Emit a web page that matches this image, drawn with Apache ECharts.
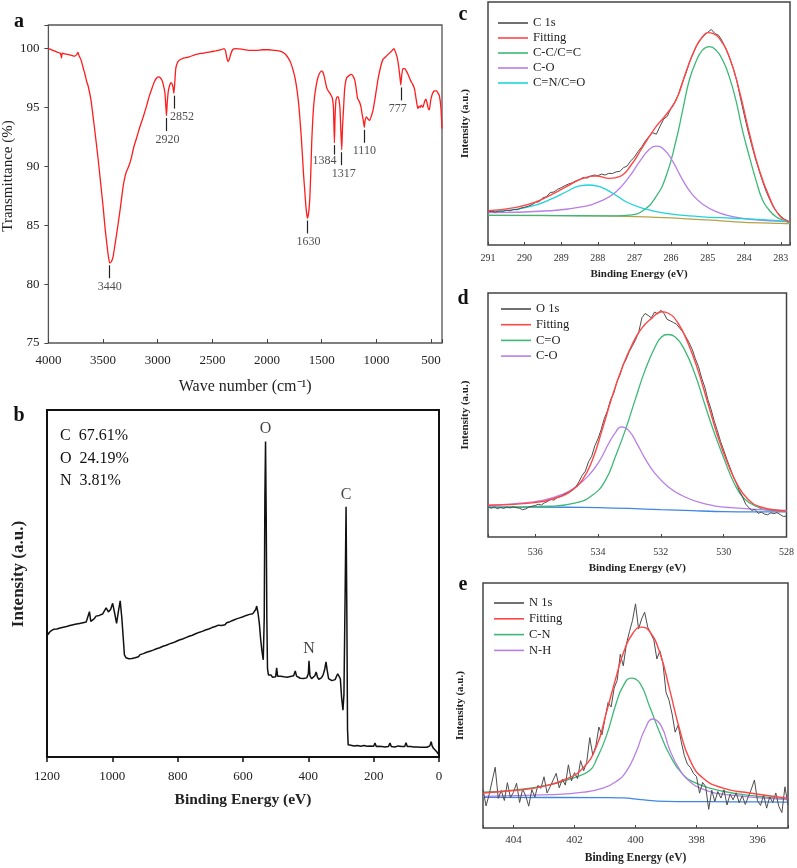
<!DOCTYPE html>
<html><head><meta charset="utf-8">
<script src="https://cdn.jsdelivr.net/npm/echarts@6/dist/echarts.min.js"></script>
<style>html,body{margin:0;padding:0;background:#fff}#c{width:797px;height:868px}</style>
</head><body><div id="c"></div>
<script>
// ---------- DATA ----------
// (a) FTIR: [wavenumber cm-1, transmittance %]
const ftir = [[4000,100.0],[3960,99.85],[3920,99.7],[3890,99.6],[3880,99.2],[3875,99.6],[3850,99.55],[3820,99.5],[3800,99.45],[3780,99.4],[3760,99.35],[3740,99.5],[3730,99.7],[3720,99.4],[3700,99.0],[3680,98.3],[3665,97.8],[3650,97.2],[3636,96.8],[3610,95.6],[3591,94.2],[3570,92.6],[3545,90.6],[3520,88.4],[3500,86.6],[3480,84.6],[3455,82.6],[3440,81.8],[3425,81.9],[3409,82.3],[3390,83.4],[3364,85.0],[3340,86.6],[3318,88.2],[3300,89.1],[3288,89.5],[3265,90.0],[3242,90.7],[3220,91.6],[3197,92.3],[3165,93.3],[3136,94.1],[3100,95.2],[3076,96.0],[3050,96.7],[3030,97.2],[3010,97.5],[2991,97.6],[2975,97.5],[2961,97.3],[2948,96.9],[2935,96.3],[2925,95.0],[2920,94.3],[2913,95.4],[2903,96.4],[2890,96.9],[2879,97.1],[2868,97.0],[2860,96.7],[2852,96.2],[2845,97.0],[2835,98.3],[2820,98.8],[2803,99.0],[2760,99.2],[2712,99.3],[2650,99.5],[2591,99.6],[2530,99.7],[2470,99.8],[2420,99.9],[2394,100.0],[2380,99.8],[2368,99.2],[2355,98.9],[2345,99.1],[2333,99.5],[2315,99.9],[2288,100.0],[2230,99.95],[2167,99.85],[2100,99.85],[2040,99.9],[1985,99.9],[1940,99.85],[1894,99.8],[1860,99.7],[1830,99.5],[1800,99.1],[1780,98.7],[1760,98.1],[1742,97.4],[1725,96.4],[1712,95.4],[1700,94.1],[1688,92.6],[1677,91.0],[1667,89.4],[1655,87.9],[1645,86.6],[1635,85.8],[1630,85.6],[1618,86.2],[1609,87.3],[1600,89.5],[1591,92.2],[1580,94.3],[1567,95.8],[1550,96.9],[1536,97.5],[1520,97.9],[1500,98.1],[1490,98.0],[1479,97.7],[1465,97.1],[1455,96.7],[1440,96.4],[1424,96.2],[1413,96.0],[1403,95.8],[1393,95.0],[1384,92.0],[1378,94.2],[1370,95.6],[1360,95.9],[1348,95.9],[1340,95.5],[1333,94.9],[1326,93.2],[1317,91.4],[1310,93.3],[1300,95.0],[1290,96.6],[1273,97.5],[1250,97.7],[1227,97.8],[1210,97.6],[1197,97.3],[1185,96.6],[1173,95.8],[1162,95.6],[1152,95.4],[1140,95.0],[1130,94.4],[1120,93.9],[1110,93.3],[1105,93.8],[1091,94.2],[1075,94.0],[1061,93.9],[1045,94.3],[1030,94.8],[1010,95.9],[985,97.4],[960,98.5],[939,99.1],[915,99.3],[894,99.5],[870,99.7],[850,99.9],[839,100.0],[825,99.7],[809,99.2],[795,98.4],[785,97.6],[777,96.9],[770,97.6],[758,98.3],[740,98.3],[727,98.1],[710,97.8],[688,97.3],[670,97.0],[652,96.6],[638,95.8],[621,94.9],[610,95.1],[600,95.0],[590,95.2],[585,95.2],[575,95.0],[565,95.3],[555,95.6],[546,95.7],[535,95.3],[525,94.9],[515,94.8],[505,95.5],[490,96.1],[470,96.4],[450,96.4],[435,96.2],[424,96.0],[410,95.0],[400,93.2]];
const ftirPeaks = [3440, 2920, 2852, 1630, 1384, 1317, 1110, 777];
const ftirTicksY = [75, 80, 85, 90, 95, 100];

// (b) XPS survey: [binding energy eV, intensity a.u.]
const survey = [[1200,36.5],[1197,35.3],[1195,35.6],[1190,36.2],[1185,35.9],[1180,36.8],[1175,36.3],[1170,36.9],[1165,36.6],[1160,37.2],[1155,36.9],[1150,37.4],[1145,37.1],[1140,37.6],[1135,37.3],[1130,37.9],[1125,37.6],[1120,38.1],[1115,37.8],[1110,38.3],[1105,38.0],[1100,38.5],[1095,38.2],[1090,38.7],[1085,38.4],[1080,38.9],[1075,39.0],[1070,41.9],[1066,39.1],[1060,39.4],[1055,39.9],[1050,40.6],[1045,40.2],[1040,40.8],[1035,40.5],[1030,41.2],[1025,41.6],[1019,43.0],[1012,41.8],[1005,42.6],[999,44.3],[993,41.5],[987,38.5],[982,41.6],[976,45.0],[971,40.2],[966,33.5],[963,29.4],[958,28.6],[950,28.3],[945,28.0],[940,28.4],[935,28.9],[930,28.6],[925,29.1],[920,28.9],[915,29.5],[910,29.3],[905,29.8],[900,29.6],[895,30.2],[890,30.0],[885,30.5],[880,30.3],[875,30.8],[870,30.7],[865,31.2],[860,30.9],[855,31.5],[850,31.4],[845,31.9],[840,31.7],[835,32.2],[830,32.0],[825,32.6],[820,32.4],[815,32.9],[810,32.8],[805,33.3],[800,33.1],[795,33.7],[790,33.5],[785,34.0],[780,33.9],[775,34.4],[770,34.2],[765,34.8],[760,34.6],[755,35.1],[750,35.0],[745,35.5],[740,35.3],[735,35.9],[730,35.7],[725,36.2],[720,36.0],[715,36.6],[710,36.4],[705,36.9],[700,36.8],[695,37.3],[690,37.1],[685,37.6],[680,37.4],[675,38.0],[670,38.3],[665,37.9],[660,38.3],[655,38.1],[650,38.7],[645,38.5],[640,39.0],[635,38.8],[630,39.4],[625,39.2],[620,39.8],[615,39.5],[610,40.1],[605,39.9],[600,40.4],[595,40.2],[590,40.8],[585,40.6],[580,41.1],[575,40.9],[570,41.3],[565,41.6],[561,42.5],[558,43.5],[554,41.5],[550,38.5],[546,34.0],[542,30.5],[538,28.0],[535,40.0],[533,75.0],[531,90.9],[529,70.0],[527,40.0],[525,25.5],[522,23.6],[518,23.2],[514,23.6],[510,23.0],[505,23.4],[500,23.1],[497,25.7],[494,23.3],[490,22.9],[485,23.3],[480,22.8],[475,23.1],[470,22.7],[465,23.0],[460,22.8],[455,23.2],[450,23.0],[445,23.4],[440,24.8],[436,23.3],[430,23.0],[425,22.7],[420,23.1],[415,22.6],[410,22.9],[405,22.8],[400,24.0],[398,27.7],[395,23.4],[390,22.6],[385,22.9],[380,23.4],[376,24.5],[372,23.0],[368,22.4],[364,22.2],[360,22.8],[355,23.6],[350,25.2],[346,27.4],[342,24.8],[338,22.6],[334,22.2],[328,22.0],[323,22.0],[318,22.3],[314,23.2],[310,24.0],[306,24.5],[302,22.5],[298,17.0],[294,13.5],[291,18.0],[287,50.0],[284.5,72.1],[282,40.0],[280,8.0],[278,3.5],[274,3.1],[270,3.4],[265,2.9],[260,3.2],[255,3.0],[250,3.3],[245,2.9],[240,3.1],[235,3.0],[230,3.3],[225,2.9],[220,3.1],[215,3.0],[210,3.2],[205,3.0],[200,3.1],[196,4.0],[192,3.0],[185,3.1],[180,2.9],[175,3.0],[170,3.2],[165,2.9],[160,3.1],[155,3.0],[150,4.0],[146,3.0],[140,3.1],[135,2.9],[130,3.0],[125,3.2],[120,2.9],[115,3.0],[110,3.1],[105,3.0],[101,4.1],[97,3.0],[92,2.8],[87,3.0],[82,2.8],[77,2.9],[72,2.7],[67,2.9],[62,2.7],[57,2.8],[52,2.7],[47,2.8],[42,2.6],[37,2.8],[32,2.7],[28,3.2],[24,4.4],[21,3.2],[17,2.5],[12,2.0],[7,1.5],[3,1.0],[0,0.6]];
const surveyPeaks = [['O', 531, 90.9], ['C', 284.5, 72.1], ['N', 398, 27.7]];
const composition = [['C', '67.61%'], ['O', '24.19%'], ['N', '3.81%']];

// (c) C 1s
const c1sRawStart = 291.0, c1sRawStep = 0.1;
const c1sRaw = [13.6,13.9,13.5,14.0,13.8,14.3,14.1,14.6,14.5,15.2,15.5,16.0,16.6,17.5,17.9,19.4,19.9,21.6,21.8,22.9,23.6,24.4,25.1,25.6,26.4,26.9,27.8,27.5,28.3,28.8,28.5,29.2,28.8,29.5,29.4,30.1,30.3,31.8,32.5,34.6,36.2,38.5,40.4,42.8,44.7,46.2,45.6,48.9,51.8,53.0,56.4,58.8,61.9,66.5,70.3,75.1,78.6,82.0,84.3,86.2,87.5,88.7,87.0,86.3,83.9,80.6,77.0,72.6,67.4,60.2,53.5,47.1,41.3,35.8,30.9,26.2,22.0,18.6,15.5,13.4,11.8,10.6,9.9];
const c1sFit = [[291,14.1],[290.23,15.5],[289.68,17.8],[289.23,21.0],[288.86,24.0],[288.41,27.4],[288.05,28.4],[287.68,27.4],[287.41,28.1],[287.09,32.9],[286.77,40.5],[286.41,48.7],[286.14,53.5],[285.86,59.7],[285.59,71.3],[285.32,81.6],[285.14,85.7],[285.0,87.4],[284.86,87.1],[284.68,85.0],[284.41,77.5],[284.14,63.8],[283.86,46.0],[283.59,30.9],[283.32,19.9],[283.05,12.3],[282.77,9.6]];
const c1sCC = [[291,12.2],[289,12.1],[288,12.0],[287.5,12.0],[287.14,12.3],[286.77,14.1],[286.41,19.9],[286.14,28.1],[285.86,43.2],[285.68,55.6],[285.5,67.9],[285.32,75.4],[285.14,80.2],[284.95,81.6],[284.77,80.2],[284.59,76.1],[284.41,69.3],[284.23,59.7],[284.05,47.3],[283.86,36.4],[283.68,26.7],[283.5,18.5],[283.32,14.4],[283.14,11.7],[282.95,10.3],[282.77,9.2]];
const c1sCO = [[291,13.3],[289.32,14.1],[288.41,15.8],[287.86,18.5],[287.5,21.9],[287.14,28.1],[286.86,34.3],[286.59,39.4],[286.41,40.7],[286.18,39.1],[285.95,34.3],[285.68,26.7],[285.41,20.6],[285.14,16.9],[284.77,13.7],[284.32,11.7],[283.86,10.6],[282.77,9.6]];
const c1sCN = [[291,13.7],[290.23,14.7],[289.68,16.5],[289.23,19.2],[288.86,21.9],[288.5,24.3],[288.23,24.7],[287.95,24.0],[287.59,21.3],[287.23,17.8],[286.77,15.1],[286.14,13.0],[285.23,11.7],[284.32,11.0],[283.41,10.3],[282.77,9.6]];
const c1sBase = [[291,12.2],[290,12.2],[289,12.1],[288,12.0],[287,11.7],[286,11.2],[285,10.3],[284,9.3],[283,8.9],[282.75,8.8]];

// (d) O 1s
const o1sRawStart = 537.5, o1sRawStep = 0.1;
const o1sRaw = [12.4,11.8,12.3,11.6,12.1,11.7,12.3,11.9,12.4,12.0,11.8,11.2,11.5,12.3,12.6,12.9,13.4,13.1,14.0,14.6,15.4,15.1,16.2,16.6,17.3,17.9,18.6,19.5,20.6,22.8,25.3,27.0,30.9,33.1,37.4,40.2,44.0,48.5,51.7,56.2,58.9,63.5,66.4,70.6,72.9,76.1,78.4,80.9,84.2,89.9,91.6,90.8,89.8,92.2,91.4,92.9,91.7,89.2,88.6,87.9,87.2,85.6,84.1,82.0,79.6,76.9,73.0,69.8,65.1,61.4,56.2,52.3,47.5,43.6,39.2,35.6,31.9,28.5,25.0,22.1,19.0,16.4,13.5,12.0,10.9,11.3,9.7,10.2,9.4,9.1,9.9,9.6,10.0,9.2,8.4,8.6];
const o1sFit = [[537.5,13.0],[536.08,14.0],[535.24,16.4],[534.82,19.2],[534.5,23.3],[534.18,31.5],[533.87,43.8],[533.55,57.5],[533.24,69.1],[532.92,78.7],[532.61,85.5],[532.29,89.6],[531.97,92.3],[531.76,91.7],[531.45,87.6],[531.13,79.3],[530.82,68.4],[530.5,54.7],[530.18,41.0],[529.87,30.1],[529.55,21.2],[529.24,15.7],[528.82,12.3],[528,10.7]];
const o1sCdO = [[537.5,12.0],[535.55,12.6],[534.71,14.0],[534.18,17.1],[533.76,23.3],[533.45,32.8],[533.13,43.8],[532.82,56.1],[532.5,68.4],[532.18,78.0],[531.97,82.1],[531.78,83.0],[531.55,82.1],[531.24,76.6],[530.92,67.0],[530.61,54.7],[530.29,42.4],[529.97,31.5],[529.66,21.9],[529.34,15.7],[528.92,12.3],[528.5,10.9],[528,10.7]];
const o1sCO = [[537.5,13.0],[536.6,13.7],[535.76,15.0],[535.13,17.5],[534.71,20.5],[534.29,25.3],[533.97,30.8],[533.66,38.3],[533.45,42.7],[533.26,45.1],[533.03,43.8],[532.76,38.3],[532.5,32.1],[532.18,26.0],[531.76,20.5],[531.34,17.1],[530.71,14.0],[529.76,12.0],[528,10.9]];
const o1sBase = [[537.5,12.3],[535,12.2],[534,12.0],[533,11.7],[532,11.2],[531,10.8],[530,10.4],[529,10.3],[528,10.3]];

// (e) N 1s
const n1sRawStart = 405.0, n1sRawStep = 0.1;
const n1sRaw = [15.8,9.0,13.6,19.2,24.8,12.1,15.3,11.2,18.5,12.4,14.6,18.3,10.4,15.9,13.1,8.9,15.7,12.6,17.4,16.2,20.9,14.3,16.8,19.6,22.3,16.4,19.9,17.5,25.8,19.2,22.6,20.1,27.5,23.4,26.8,36.9,29.7,33.5,41.2,38.0,44.6,51.2,49.4,57.1,60.3,70.9,66.2,75.0,80.1,84.6,91.5,81.2,85.3,88.1,82.0,79.4,76.8,69.0,72.3,67.2,55.4,52.1,46.5,39.1,42.0,35.2,29.6,26.1,24.7,22.3,21.0,14.2,18.6,16.9,7.6,15.4,10.8,14.9,12.2,15.6,9.4,13.8,11.5,14.4,10.3,13.2,9.6,12.8,15.9,19.6,11.1,9.2,13.5,8.1,12.7,10.4,14.3,8.8,6.3,16.8,9.5];
const n1sFit = [[405,14.3],[403.9,15.4],[403.03,17.0],[402.27,20.0],[401.72,24.5],[401.28,33.3],[400.96,46.9],[400.63,61.9],[400.36,72.8],[400.08,79.6],[399.81,82.0],[399.54,80.3],[399.2,71.4],[398.88,56.5],[398.55,40.1],[398.22,27.9],[397.79,20.4],[397.13,16.3],[396.26,14.3],[395,12.2]];
const n1sCN = [[405,14.6],[403.9,15.6],[402.8,17.7],[402.05,20.4],[401.5,23.5],[401.28,28.0],[400.96,37.4],[400.63,51.0],[400.41,57.8],[400.14,61.2],[399.86,59.2],[399.54,49.7],[399.2,38.8],[398.88,29.9],[398.44,21.8],[397.9,17.7],[397.13,15.0],[396.26,13.3],[395,11.8]];
const n1sNH = [[405,12.9],[402.8,13.6],[401.7,14.6],[401.07,16.3],[400.63,19.0],[400.3,23.1],[399.97,31.3],[399.7,40.1],[399.43,44.5],[399.15,41.5],[398.88,32.0],[398.55,23.8],[398.22,19.0],[397.79,15.9],[397.02,13.6],[395,11.6]];
const n1sBase = [[405,12.5],[401,12.4],[400.4,12.3],[399.9,11.7],[399.3,11.0],[397,10.7],[395,10.6]];

// ---------- BUILD ----------
const serif = '"Liberation Serif", "Times New Roman", serif';
const C = {raw:'#4d4d4d', fit:'#ff4646', green:'#3db877', purple:'#b87fe6', cyan:'#1fd3dd', blue:'#3f87e6', olive:'#b6a247', ftir:'#ff1c1c'};
const pairs = (start, step, vals) => vals.map((v, i) => [+(start - step * i).toFixed(3), v]);

function lineSeries(name, data, color, idx, width, smooth, z) {
  return {name, type:'line', data, xAxisIndex:idx, yAxisIndex:idx, symbol:'none', showSymbol:false,
    smooth: smooth, lineStyle:{color, width}, itemStyle:{color}, z: z||2, silent:true, animation:false};
}
const fmtStep = step => v => (Math.abs(v / step - Math.round(v / step)) < 1e-6) ? String(Math.round(v)) : '';

function xAx(idx, o) {
  return Object.assign({gridIndex:idx, type:'value', inverse:true, splitLine:{show:false},
    axisLine:{show:false}, nameLocation:'middle'}, o);
}
function yHidden(idx, o) {
  return Object.assign({gridIndex:idx, type:'value', min:0, max:100, axisLine:{show:false}, axisTick:{show:false},
    axisLabel:{show:false}, splitLine:{show:false}, nameLocation:'middle'}, o);
}
const smallLbl = (size, margin) => ({fontFamily:serif, fontSize:size, color:'#333', margin});
const xpsName = {fontFamily:serif, fontSize:11, fontWeight:'bold', color:'#222'};

// FTIR peak tick marks and labels
const ftirAt = w => { let best = ftir[0]; ftir.forEach(p => { if (Math.abs(p[0]-w) < Math.abs(best[0]-w)) best = p; }); return best[1]; };
const labelShift = {2852:[8,0], 1384:[-10,-6], 777:[-3,0], 2920:[1,0], 1317:[2,0], 1630:[1,0]};
const tickLen = {1384:0.8};
const tickLines = ftirPeaks.map(w => { const t = ftirAt(w); return [{coord:[w, t-0.2]}, {coord:[w, t-0.2-(tickLen[w]||1.1)]}]; });
const peakLabelData = ftirPeaks.map(w => ({name:String(w), value:[w, ftirAt(w)-1.3],
  label:{offset: labelShift[w] || [0,0]}}));

const legendBase = {orient:'vertical', icon:'rect', itemWidth:30, itemHeight:1.6, selectedMode:false, padding:0,
  textStyle:{fontFamily:serif, fontSize:12.5, color:'#222', lineHeight:14}};

const option = {
  animation:false,
  backgroundColor:'#fff',
  grid:[
    {left:45, top:25, width:397, height:318, show:true, borderColor:'#555', borderWidth:1.3, backgroundColor:'transparent'},
    {left:47, top:410, width:392, height:347, show:true, borderColor:'#111', borderWidth:2, backgroundColor:'transparent'},
    {left:488, top:2, width:302, height:243, show:true, borderColor:'#444', borderWidth:1.5, backgroundColor:'transparent'},
    {left:488, top:293, width:300, height:244, show:true, borderColor:'#444', borderWidth:1.5, backgroundColor:'transparent'},
    {left:483, top:583, width:305, height:245, show:true, borderColor:'#444', borderWidth:1.5, backgroundColor:'transparent'}
  ],
  xAxis:[
    xAx(0, {min:400, max:4000, splitNumber:7, axisTick:{show:true, inside:true, length:4, lineStyle:{color:'#444'}},
      axisLabel:Object.assign(smallLbl(13, 11), {formatter: fmtStep(500), color:'#222'}),
      name:'Wave number (cm\u207B\u00B9)', nameGap:36, nameTextStyle:{fontFamily:serif, fontSize:16, color:'#222'}}),
    xAx(1, {min:0, max:1200, interval:200, axisTick:{show:true, inside:false, length:5, lineStyle:{color:'#111', width:1.5}},
      axisLabel:Object.assign(smallLbl(13, 13), {formatter: fmtStep(200), color:'#222'}),
      name:'Binding Energy (eV)', nameGap:35, nameTextStyle:{fontFamily:serif, fontSize:15.5, fontWeight:'bold', color:'#222'}}),
    xAx(2, {min:282.75, max:291, splitNumber:8, axisTick:{show:true, inside:true, length:3, lineStyle:{color:'#444'}},
      axisLabel:Object.assign(smallLbl(10, 8), {formatter: fmtStep(1)}),
      name:'Binding Energy (eV)', nameGap:24, nameTextStyle:xpsName}),
    xAx(3, {min:528, max:537.5, interval:2, axisTick:{show:true, inside:true, length:3, lineStyle:{color:'#444'}},
      axisLabel:Object.assign(smallLbl(10, 10), {formatter: fmtStep(2)}),
      name:'Binding Energy (eV)', nameGap:26, nameTextStyle:xpsName}),
    xAx(4, {min:395, max:405, splitNumber:5, axisTick:{show:true, inside:true, length:3, lineStyle:{color:'#444'}},
      axisLabel:Object.assign(smallLbl(11, 7), {formatter: fmtStep(2)}),
      name:'Binding Energy (eV)', nameGap:24, nameTextStyle:Object.assign({}, xpsName, {fontSize:11.5})})
  ],
  yAxis:[
    {gridIndex:0, type:'value', min:75, max:102, interval:5, axisLine:{show:false}, splitLine:{show:false},
      axisTick:{show:true, inside:false, length:4, lineStyle:{color:'#444'}},
      axisLabel:Object.assign(smallLbl(13, 9), {formatter: v => ftirTicksY.indexOf(v) >= 0 ? String(v) : '', color:'#222'}),
      name:'Transmittance (%)', nameLocation:'middle', nameGap:29,
      nameTextStyle:{fontFamily:serif, fontSize:15, color:'#222', padding:[0,0,0,16]}},
    yHidden(1, {name:'Intensity (a.u.)', nameGap:20,
      nameTextStyle:{fontFamily:serif, fontSize:17, fontWeight:'bold', color:'#222', padding:[0,0,0,19]}}),
    yHidden(2, {name:'Intensity (a.u.)', nameGap:17, nameTextStyle:xpsName}),
    yHidden(3, {name:'Intensity (a.u.)', nameGap:17, nameTextStyle:xpsName}),
    yHidden(4, {name:'Intensity (a.u.)', nameGap:17, nameTextStyle:xpsName})
  ],
  legend:[
    Object.assign({}, legendBase, {data:['C 1s','Fitting','C-C/C=C','C-O','C=N/C=O'], left:498, top:16, itemGap:1}),
    Object.assign({}, legendBase, {data:['O 1s','Fitting','C=O','C-O'], left:501, top:302, itemGap:1.7}),
    Object.assign({}, legendBase, {data:['N 1s','Fitting','C-N','N-H'], left:494, top:596, itemGap:1.8})
  ],
  series:[
    Object.assign(lineSeries('FTIR', ftir, C.ftir, 0, 1.3, 0.15), {
      markLine:{symbol:'none', silent:true, animation:false, label:{show:false},
        lineStyle:{color:'#222', width:1.2, type:'solid'}, data:tickLines}}),
    {type:'scatter', xAxisIndex:0, yAxisIndex:0, data:peakLabelData, symbolSize:1, itemStyle:{color:'rgba(0,0,0,0)'}, silent:true,
      label:{show:true, position:'bottom', distance:2, formatter:'{b}', fontFamily:serif, fontSize:12, color:'#222'}},

    lineSeries('Survey', survey, '#111', 1, 1.5, false),
    {type:'scatter', xAxisIndex:1, yAxisIndex:1, data:surveyPeaks.map(p => ({name:p[0], value:[p[1], p[2]]})),
      symbolSize:1, itemStyle:{color:'rgba(0,0,0,0)'}, silent:true,
      label:{show:true, position:'top', distance:4, formatter:'{b}', fontFamily:serif, fontSize:16, color:'#111'}},

    lineSeries('C base', c1sBase, C.olive, 2, 1.3, 0.3, 1),
    lineSeries('C-C/C=C', c1sCC, C.green, 2, 1.3, 0.5),
    lineSeries('C-O', c1sCO, C.purple, 2, 1.3, 0.5),
    lineSeries('C=N/C=O', c1sCN, C.cyan, 2, 1.3, 0.5),
    lineSeries('C 1s', pairs(c1sRawStart, c1sRawStep, c1sRaw), C.raw, 2, 1, false, 3),
    lineSeries('Fitting', c1sFit, C.fit, 2, 1.4, 0.5, 4),

    lineSeries('O base', o1sBase, C.blue, 3, 1.3, 0.3, 1),
    lineSeries('C=O', o1sCdO, C.green, 3, 1.3, 0.5),
    lineSeries('C-O', o1sCO, C.purple, 3, 1.3, 0.5),
    lineSeries('O 1s', pairs(o1sRawStart, o1sRawStep, o1sRaw), C.raw, 3, 1, false, 3),
    lineSeries('Fitting', o1sFit, C.fit, 3, 1.4, 0.5, 4),

    lineSeries('N base', n1sBase, C.blue, 4, 1.3, 0.3, 1),
    lineSeries('C-N', n1sCN, C.green, 4, 1.3, 0.5),
    lineSeries('N-H', n1sNH, C.purple, 4, 1.3, 0.5),
    lineSeries('N 1s', pairs(n1sRawStart, n1sRawStep, n1sRaw), C.raw, 4, 1, false, 3),
    lineSeries('Fitting', n1sFit, C.fit, 4, 1.4, 0.5, 4)
  ],
  graphic:[
    {type:'text', x:19, y:22, style:{text:'a', font:'bold 20px ' + serif, fill:'#111', textAlign:'center', textVerticalAlign:'middle'}},
    {type:'text', x:19, y:416, style:{text:'b', font:'bold 20px ' + serif, fill:'#111', textAlign:'center', textVerticalAlign:'middle'}},
    {type:'text', x:463, y:15, style:{text:'c', font:'bold 20px ' + serif, fill:'#111', textAlign:'center', textVerticalAlign:'middle'}},
    {type:'text', x:463, y:299, style:{text:'d', font:'bold 20px ' + serif, fill:'#111', textAlign:'center', textVerticalAlign:'middle'}},
    {type:'text', x:463, y:585, style:{text:'e', font:'bold 20px ' + serif, fill:'#111', textAlign:'center', textVerticalAlign:'middle'}}
  ].concat(composition.map((c, i) => ({type:'text', x:60, y:436 + i * 22.5,
      style:{text:c[0] + '  ' + c[1], font:'16px ' + serif, fill:'#111', textVerticalAlign:'middle'}})))
};

const chart = echarts.init(document.getElementById('c'), null, {renderer:'canvas', width:797, height:868});
chart.setOption(option);
</script></body></html>
